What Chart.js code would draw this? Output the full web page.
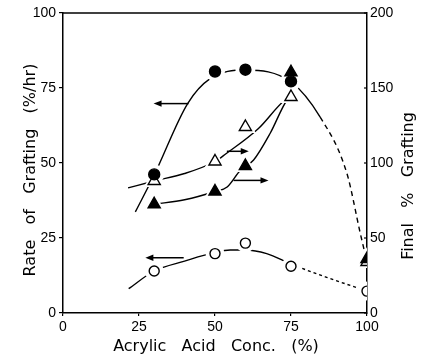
<!DOCTYPE html>
<html><head><meta charset="utf-8">
<script src="https://cdn.jsdelivr.net/npm/chart.js@4.4.1/dist/chart.umd.min.js"></script>
<style>html,body{margin:0;padding:0;background:#fff}canvas{display:block}</style>
</head><body>
<canvas id="c" width="421" height="359"></canvas>
<script>
// Acrylic acid concentration (%) of each run
const conc = [30, 50, 60, 75, 100];
// Rate of grafting (%/hr) -> left axis
const rateFilled = [46.2, 80.5, 81.1, 77.2, null];
const rateOpen   = [14.0, 19.8, 23.3, 15.6, 7.3];
// Final % grafting -> right axis
const finalOpen   = [88, 101, 124, 144, 34];
const finalFilled = [72.5, 81, 98, 160.5, 36];

// Hand-drawn trend curves through the data
const curveRateFilledX = [23.8, 30, 41, 48.4, 60, 75, 84.6, 93.4, 97.8, 100];
const curveRateFilledY = [33.7, 46, 69.8, 78.1, 81, 77, 65.3, 46.5, 26.5, 17];
const curveRateOpenX = [21.6, 30, 40, 50, 55, 60, 67, 75, 87, 100];
const curveRateOpenY = [8.1, 14, 17.3, 20.2, 21, 21, 19.8, 16.3, 11.8, 7.3];
const curveFinalOpenX = [21.4, 30, 40, 50, 53.5, 64.3, 73, 75];
const curveFinalOpenY = [83.4, 88, 93, 101, 106, 123, 142, 144];
const curveFinalFilledX = [30, 40, 50, 54, 58.3, 62.7, 68.2, 73.7, 75];
const curveFinalFilledY = [72.5, 75.5, 81, 84, 95, 102, 120, 142, 144];

// Arrows showing which axis each curve belongs to (left-axis units)
const arrowX0 = [41.3, 39.7, 53.9, 56.1];
const arrowX1 = [29.8, 27.1, 61.1, 67.6];
const arrowY  = [69.8, 18.4, 53.9, 44.2];

// Tick labels
const xTicks = [0, 25, 50, 75, 100];
const rateTicks = [0, 25, 50, 75, 100];
const finalTicks = [0, 50, 100, 150, 200];

const pts = (xs, ys) => xs.map((x, i) => ({x, y: ys[i]})).filter(p => p.y !== null);

function markers(data, axis, style, filled, r) {
  return {data, yAxisID: axis, showLine: false, pointStyle: style, pointRadius: r, pointHoverRadius: r,
    pointBackgroundColor: filled ? '#000' : '#fff', pointBorderColor: '#000', pointBorderWidth: 1.4};
}
// white ring under each marker so the curves stop short of it
function halo(data, axis, style, r) {
  return {data, yAxisID: axis, showLine: false, pointStyle: style, pointRadius: r, pointHoverRadius: r,
    pointBackgroundColor: '#fff', pointBorderColor: '#fff', pointBorderWidth: 0};
}
function curve(data, axis, dashFrom, dash) {
  return {data, yAxisID: axis, showLine: true, pointRadius: 0, borderColor: '#000', borderWidth: 1.4,
    cubicInterpolationMode: 'monotone', fill: false,
    segment: {borderDash: c => (dashFrom !== null && c.p0.parsed.x >= dashFrom) ? dash : undefined}};
}

const dFilledTri = pts(conc, finalFilled);
const dFilledCirc = pts(conc, rateFilled);
const dOpenCirc = pts(conc, rateOpen);
const dOpenTri = pts(conc, finalOpen);

const tickFont = {family: 'Liberation Sans', size: 14};

const axisDecor = {
  id: 'axisDecor',
  afterDatasetsDraw(chart) {
    const {ctx, chartArea: a, scales} = chart;
    const x = scales.x, y = scales.y, y2 = scales.y2;
    ctx.save();
    ctx.strokeStyle = '#000'; ctx.fillStyle = '#000'; ctx.lineWidth = 1.5;
    // top frame line
    ctx.beginPath(); ctx.moveTo(a.left, a.top); ctx.lineTo(a.right, a.top); ctx.stroke();
    // inward ticks on the right axis
    ctx.lineWidth = 1.2;
    finalTicks.forEach(v => {
      const py = y2.getPixelForValue(v);
      ctx.beginPath(); ctx.moveTo(a.right - 3, py); ctx.lineTo(a.right, py); ctx.stroke();
    });
    // arrows
    ctx.lineWidth = 1.5;
    arrowX0.forEach((x0, i) => {
      const px0 = x.getPixelForValue(x0), px1 = x.getPixelForValue(arrowX1[i]);
      const py = y.getPixelForValue(arrowY[i]);
      const dir = Math.sign(px1 - px0);
      ctx.beginPath(); ctx.moveTo(px0, py); ctx.lineTo(px1 - dir * 5, py); ctx.stroke();
      ctx.beginPath(); ctx.moveTo(px1, py); ctx.lineTo(px1 - dir * 8, py - 3.2); ctx.lineTo(px1 - dir * 8, py + 3.2);
      ctx.closePath(); ctx.fill();
    });
    // axis titles
    ctx.font = '16px "DejaVu Sans"';
    ctx.textAlign = 'center'; ctx.textBaseline = 'middle';
    ctx.fillText('Acrylic   Acid   Conc.   (%)', (a.left + a.right) / 2 + 1, 347);
    ctx.save(); ctx.translate(31, 170); ctx.rotate(-Math.PI / 2);
    ctx.fillText('Rate   of   Grafting   (%/hr)', 0, 0); ctx.restore();
    ctx.save(); ctx.translate(409, 186); ctx.rotate(-Math.PI / 2);
    ctx.fillText('Final   %   Grafting', 0, 0); ctx.restore();
    ctx.restore();
  }
};

new Chart(document.getElementById('c'), {
  type: 'scatter',
  data: {datasets: [
    markers(dFilledTri, 'y2', 'triangle', true, 7),
    markers(dFilledCirc, 'y', 'circle', true, 5.5),
    markers(dOpenCirc, 'y', 'circle', false, 5),
    markers(dOpenTri, 'y2', 'triangle', false, 7),
    halo(dFilledTri, 'y2', 'triangle', 12),
    halo(dFilledCirc, 'y', 'circle', 10),
    halo(dOpenCirc, 'y', 'circle', 9.5),
    halo(dOpenTri, 'y2', 'triangle', 12),
    curve(pts(curveRateFilledX, curveRateFilledY), 'y', 84, [5, 4]),
    curve(pts(curveRateOpenX, curveRateOpenY), 'y', 75, [3, 3]),
    curve(pts(curveFinalOpenX, curveFinalOpenY), 'y2', null, null),
    curve(pts(curveFinalFilledX, curveFinalFilledY), 'y2', null, null)
  ]},
  options: {
    responsive: false, animation: false, events: [],
    layout: {padding: {top: 13, left: 0, right: 0, bottom: 0}},
    plugins: {legend: {display: false}, tooltip: {enabled: false}},
    scales: {
      x: {type: 'linear', min: 0, max: 100,
        afterBuildTicks: s => { s.ticks = xTicks.map(v => ({value: v})); },
        afterFit: s => { s.height = 46; },
        ticks: {color: '#000', font: tickFont, padding: 3, maxRotation: 0},
        grid: {drawOnChartArea: false, tickLength: 3, color: '#000', lineWidth: 1.2},
        border: {display: true, color: '#000', width: 1.5}},
      y: {type: 'linear', position: 'left', min: 0, max: 100,
        afterBuildTicks: s => { s.ticks = rateTicks.map(v => ({value: v})); },
        afterFit: s => { s.width = 63; },
        ticks: {color: '#000', font: tickFont, padding: 3},
        grid: {drawOnChartArea: false, tickLength: 4, color: '#000', lineWidth: 1.2},
        border: {display: true, color: '#000', width: 1.5}},
      y2: {type: 'linear', position: 'right', min: 0, max: 200,
        afterBuildTicks: s => { s.ticks = finalTicks.map(v => ({value: v})); },
        afterFit: s => { s.width = 54; },
        ticks: {color: '#000', font: tickFont, padding: 3},
        grid: {drawOnChartArea: false, drawTicks: false},
        border: {display: true, color: '#000', width: 1.5}}
    }
  },
  plugins: [axisDecor]
});
</script>
</body></html>
